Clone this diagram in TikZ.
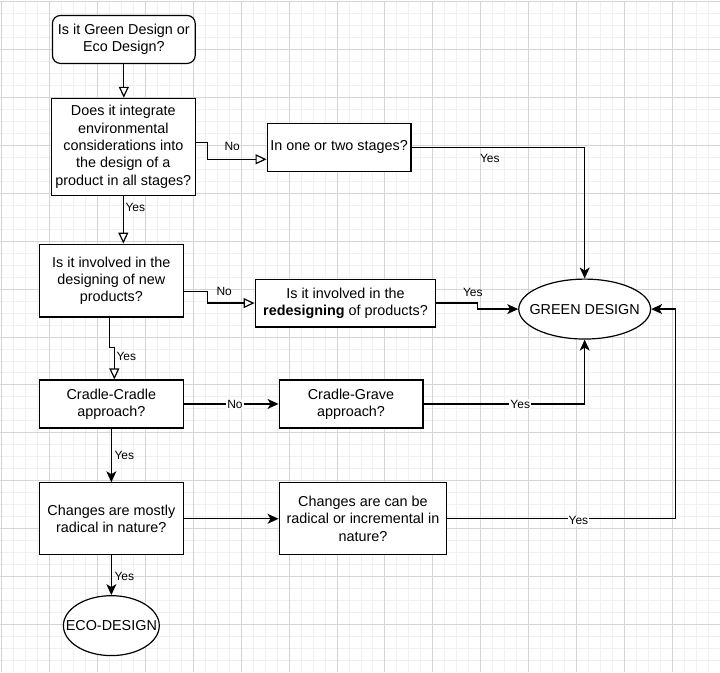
\documentclass[tikz,border=0pt]{standalone}
\usepackage{fontspec}
\setmainfont{Liberation Sans}
\usepackage{tikz}
\usetikzlibrary{shapes.geometric,arrows.meta}

\newcommand{\boxfont}{\fontsize{14.4}{17.3}\selectfont}
\newcommand{\lblfont}{\fontsize{12}{14}\selectfont}

\tikzset{
  gridminor/.style={draw=black!6, line width=1pt},
  gridmajor/.style={draw=black!17, line width=1pt},
  box/.style={draw, line width=1.2pt, fill=white, align=center, inner sep=0pt, font=\boxfont},
  startbox/.style={box, rounded corners=8pt},
  oval/.style={box, ellipse, inner xsep=-12pt},
  conn/.style={line width=1.2pt},
  openarr/.style={conn, -{Triangle[fill=white, length=11pt, width=10pt]}},
  fullarr/.style={conn, -{Stealth[length=11pt, width=10pt, inset=3pt]}},
  lbl/.style={font=\lblfont, inner sep=1pt},
  onlbl/.style={lbl, fill=white},
}

\begin{document}
\begin{tikzpicture}[x=1pt, y=-1pt]
% page and grid
\fill[white] (0,0) rectangle (720,672);
\begin{scope}[shift={(1,1)}]
\draw[gridminor, step=12pt] (-1,-1) grid (719,671);
\draw[gridmajor, step=48pt] (-1,-1) grid (719,671);
\end{scope}
\useasboundingbox (0,0) rectangle (720,672);

% questions
\node[startbox, minimum width=143pt, minimum height=48pt] (start) at (123.5,39) {Is it Green Design or\\Eco Design?};
\node[box, minimum width=144pt, minimum height=97pt] (allstages) at (123,146.5) {Does it integrate\\environmental\\considerations into\\the design of a\\product in all stages?};
\node[box, minimum width=144pt, minimum height=48pt] (twostages) at (339,147) {In one or two stages?};
\node[box, minimum width=144pt, minimum height=73pt] (newprod) at (111,280.5) {Is it involved in the\\designing of new\\products?};
\node[box, minimum width=181pt, minimum height=48pt] (redesign) at (345.5,303) {Is it involved in the\\\textbf{redesigning} of products?};
\node[box, minimum width=144pt, minimum height=48pt] (cradle) at (111,404) {Cradle-Cradle\\approach?};
\node[box, minimum width=144pt, minimum height=48pt] (grave) at (351,404) {Cradle-Grave\\approach?};
\node[box, minimum width=144pt, minimum height=72pt] (radical) at (111,519) {Changes are mostly\\radical in nature?};
\node[box, minimum width=168pt, minimum height=72pt] (incremental) at (363,519) {Changes are can be\\radical or incremental in\\nature?};

% results
\node[oval, minimum width=132pt, minimum height=60pt] (green) at (585,309) {GREEN DESIGN};
\node[oval, minimum width=96pt, minimum height=60pt] (eco) at (111,626) {ECO-DESIGN};

% connectors
\draw[openarr] (start.south) -- (start.south |- allstages.north);
\draw[openarr] ([yshift=4.5pt]allstages.east) -- ++(12,0) |- ([yshift=-12pt]twostages.west);
\draw[openarr] (allstages.south) -- (allstages.south |- newprod.north);
\draw[fullarr] (twostages.east) -| (green.north);
\draw[openarr] ([yshift=-10.5pt]newprod.east) -- ++(24,0) |- (redesign.west);
\draw[openarr] ([xshift=2pt]newprod.south) -- ++(-4,0) -- ++(0,30) -| ([xshift=3pt]cradle.north);
\draw[fullarr] (redesign.east) -- ++(41,0) |- (green.west);
\draw[fullarr] (cradle) -- node[onlbl, pos=0.54] {No} (grave);
\draw[fullarr] (grave.east) -| node[onlbl, pos=0.3] {Yes} (green.south);
\draw[fullarr] (cradle) -- (radical);
\draw[fullarr] (radical) -- (incremental);
\draw[fullarr] (radical) -- (eco);
\draw[fullarr] (incremental.east) -- node[onlbl, pos=0.575, yshift=-2pt] {Yes} ++(228,0) |- (green.east);

% labels beside the lines
\node[lbl] at (232,146) {No};
\node[lbl] at (135,207) {Yes};
\node[lbl] at (490,158) {Yes};
\node[lbl] at (224,291) {No};
\node[lbl] at (126,356) {Yes};
\node[lbl] at (473,292) {Yes};
\node[lbl] at (124,456) {Yes};
\node[lbl] at (124,577) {Yes};
\end{tikzpicture}
\end{document}
